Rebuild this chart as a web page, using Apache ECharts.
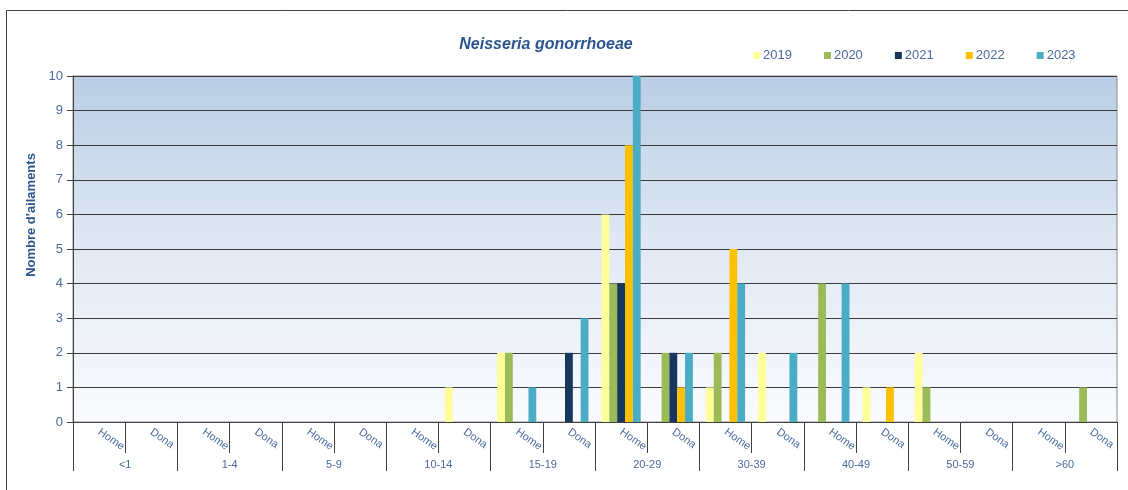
<!DOCTYPE html>
<html>
<head>
<meta charset="utf-8">
<title>Neisseria gonorrhoeae</title>
<script src="https://cdn.jsdelivr.net/npm/echarts@6/dist/echarts.min.js"></script>
<style>
  html, body { margin: 0; padding: 0; background: #fff; }
  #chart { width: 1128px; height: 490px; }
</style>
</head>
<body>
<div id="chart"></div>
<script>
var sexes = ['Home', 'Dona', 'Home', 'Dona', 'Home', 'Dona', 'Home', 'Dona', 'Home', 'Dona',
             'Home', 'Dona', 'Home', 'Dona', 'Home', 'Dona', 'Home', 'Dona', 'Home', 'Dona'];
var ageGroups = ['<1', '1-4', '5-9', '10-14', '15-19', '20-29', '30-39', '40-49', '50-59', '>60'];
var years = ['2019', '2020', '2021', '2022', '2023'];

var v2019 = [0, 0, 0, 0, 0, 0, 0, 1, 2, 0, 6, 0, 1, 2, 0, 1, 2, 0, 0, 0];
var v2020 = [0, 0, 0, 0, 0, 0, 0, 0, 2, 0, 4, 2, 2, 0, 4, 0, 1, 0, 0, 1];
var v2021 = [0, 0, 0, 0, 0, 0, 0, 0, 0, 2, 4, 2, 0, 0, 0, 0, 0, 0, 0, 0];
var v2022 = [0, 0, 0, 0, 0, 0, 0, 0, 0, 0, 8, 1, 5, 0, 0, 1, 0, 0, 0, 0];
var v2023 = [0, 0, 0, 0, 0, 0, 0, 0, 1, 3, 10, 2, 4, 2, 4, 0, 0, 0, 0, 0];

var yTicks = [0, 1, 2, 3, 4, 5, 6, 7, 8, 9, 10];

var colors = ['#FFFF99', '#9BBB59', '#17375E', '#FFC000', '#4BACC6'];
var values = [v2019, v2020, v2021, v2022, v2023];
var textColor = '#4A6A9E';
var font = '"Liberation Sans", Arial, sans-serif';

var chart = echarts.init(document.getElementById('chart'));

var series = years.map(function (y, i) {
  return {
    name: y,
    type: 'bar',
    xAxisIndex: 0,
    data: values[i],
    itemStyle: { color: colors[i] },
    barGap: '0%',
    barCategoryGap: '25%'
  };
});

chart.setOption({
  animation: false,
  color: colors,
  textStyle: { fontFamily: font },
  title: {
    text: 'Neisseria gonorrhoeae',
    left: 541,
    top: 32,
    textAlign: 'center',
    textStyle: { fontSize: 16, fontStyle: 'italic', fontWeight: 'bold', color: '#2B5490', fontFamily: font }
  },
  legend: {
    data: years,
    left: 748,
    top: 44,
    icon: 'rect',
    itemWidth: 7,
    itemHeight: 7,
    itemGap: 32,
    textStyle: { fontSize: 13, color: textColor, padding: [0, 0, 0, -2] }
  },
  graphic: [{
    type: 'rect',
    shape: { x: 6.5, y: 10.5, width: 1200, height: 600 },
    style: { fill: 'none', stroke: '#404040', lineWidth: 1 },
    silent: true
  }],
  grid: {
    left: 73,
    right: 11,
    top: 76,
    bottom: 68,
    show: true,
    borderColor: '#8c8c8c',
    borderWidth: 1,
    backgroundColor: new echarts.graphic.LinearGradient(0, 0, 0, 1, [
      { offset: 0, color: '#B9CDE5' },
      { offset: 0.5, color: '#E1E9F4' },
      { offset: 1, color: '#FAFBFE' }
    ])
  },
  xAxis: [{
    type: 'category',
    data: sexes,
    position: 'bottom',
    axisLine: { lineStyle: { color: '#404040' } },
    axisTick: { show: true, interval: 0, length: 31, lineStyle: { color: '#404040' } },
    axisLabel: { interval: 0, rotate: -35, fontSize: 11, color: textColor, margin: 9 }
  }, {
    type: 'category',
    data: ageGroups,
    position: 'bottom',
    axisLine: { show: false },
    axisTick: { show: true, interval: 0, length: 49, lineStyle: { color: '#404040' } },
    axisLabel: { interval: 0, fontSize: 11, color: textColor, margin: 37 }
  }],
  yAxis: {
    type: 'value',
    min: yTicks[0],
    max: yTicks[yTicks.length - 1],
    interval: 1,
    name: "Nombre d'ailaments",
    nameLocation: 'middle',
    nameGap: 35,
    nameTextStyle: { fontSize: 13, fontWeight: 'bold', color: '#2B5490', padding: [0, 0, 0, 68] },
    axisLine: { show: true, lineStyle: { color: '#404040' } },
    axisTick: { show: true, length: 6, lineStyle: { color: '#404040' } },
    axisLabel: { fontSize: 13, color: textColor, margin: 10 },
    splitLine: { lineStyle: { color: '#3a3a3a', width: 1 } }
  },
  series: series
});
</script>
</body>
</html>
